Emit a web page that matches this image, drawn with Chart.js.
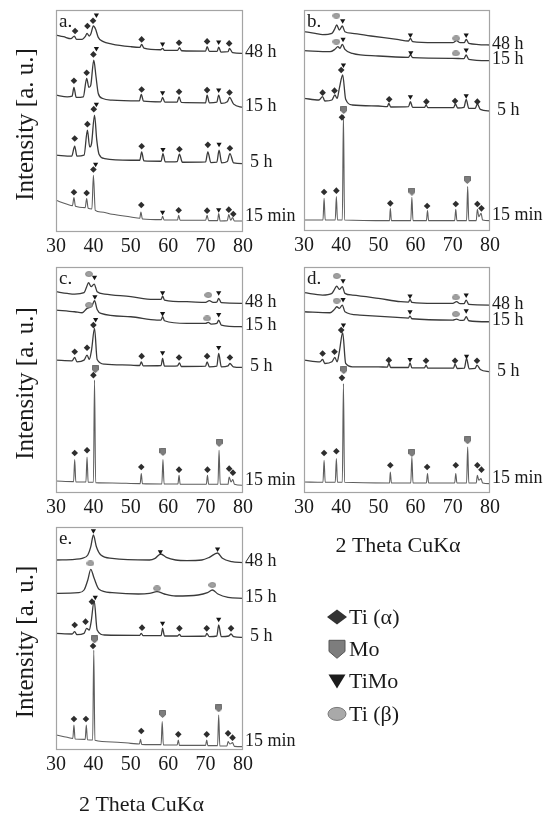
<!DOCTYPE html>
<html>
<head>
<meta charset="utf-8">
<script src="https://cdn.jsdelivr.net/npm/chart.js@4.4.1/dist/chart.umd.min.js"></script>
<style>
  body { margin: 0; background: #fff; width: 544px; height: 821px; position: relative; overflow: hidden; }
  canvas { position: absolute; }
</style>
</head>
<body>
<canvas id="pa" width="300" height="272" style="left:0;top:0"></canvas>
<canvas id="pb" width="272" height="272" style="left:272px;top:0"></canvas>
<canvas id="pc" width="300" height="262" style="left:0;top:262px"></canvas>
<canvas id="pd" width="272" height="300" style="left:272px;top:262px"></canvas>
<canvas id="pe" width="544" height="301" style="left:0;top:520px"></canvas>
<script>
// 2-theta axis and milling times
const thetaTicks = [30, 40, 50, 60, 70, 80];
const millTimes = ['48 h', '15 h', '5 h', '15 min'];
const phases = ['Ti (α)', 'Mo', 'TiMo', 'Ti (β)'];

// ---- panel a ----
const a48h = [[30,587],[32,582],[34,576],[34.9,584],[35.5,574],[37,574],[37.8,582],[38.3,592],[38.9,584],[39.3,590],[40.0,614],[40.6,604],[41.3,580],[42.5,568],[45,560],[50,552],[52.4,550],[52.9,559],[53.5,548],[58,543],[58.5,547],[59,541],[62.5,541],[63,549],[63.6,540],[70,539],[70.4,552],[71,538],[73.1,538],[73.5,551],[74.1,536],[76,537],[76.4,547],[77.2,534],[80,532]];
const a15h = [[30,407],[33,402],[34.3,404],[34.8,430],[35.4,400],[37.3,402],[38.2,457],[38.8,430],[39.3,437],[40.1,512],[40.7,462],[41.3,412],[42.5,397],[45,392],[52.3,390],[52.8,409],[53.4,389],[58,387],[58.5,400],[59.1,386],[62.4,386],[62.9,402],[63.5,385],[70,384],[70.4,407],[71,384],[73,386],[73.5,407],[74.2,382],[75.8,387],[76.4,400],[77.5,380],[80,370]];
const a5h = [[30,227],[34.2,224],[35.0,254],[35.6,224],[37.5,227],[38.4,302],[39.0,252],[39.5,262],[40.3,347],[40.9,272],[41.5,230],[43,217],[50,212],[52.4,212],[52.9,237],[53.5,210],[58.1,209],[58.6,232],[59.2,207],[62.4,208],[63.0,230],[63.8,206],[70,207],[70.6,237],[71.4,205],[73,206],[73.6,242],[74.3,204],[75.8,208],[76.5,232],[77.5,204],[80,202]];
const a15min = [[30,92],[33,80],[34.4,76],[34.8,100],[35.2,74],[37.8,70],[38.2,97],[38.6,68],[39.6,66],[40.0,167],[40.5,62],[42,57],[45,50],[50,42],[52.4,38],[52.7,57],[53.1,36],[58.2,34],[58.5,44],[58.9,33],[62.5,33],[62.8,47],[63.2,32],[70,32],[70.4,47],[70.8,31],[73.2,31],[73.5,52],[73.9,30],[75.8,31],[76.2,49],[76.7,32],[77.2,40],[77.7,30],[80,30]];
const aTiA = [[35.1,599],[38.4,614],[39.9,630],[52.9,574],[62.9,564],[70.4,568],[76.3,562],
  [34.8,450],[38.2,474],[40.0,529],[52.9,424],[62.9,417],[70.4,422],[76.4,415],
  [35.0,277],[38.4,320],[40.1,365],[52.9,254],[63.0,245],[70.6,258],[76.5,248],
  [34.8,116],[38.2,114],[40.0,184],[52.8,78],[62.8,62],[70.4,61],[76.2,64],[77.4,51]];
const aTiMo = [[40.8,647],[58.5,560],[73.5,566],[40.8,547],[58.5,414],[73.5,422],[40.8,380],[58.6,244],[73.6,260],[40.6,200],[58.5,56],[73.5,64]];

// ---- panel b ----
const b48h = [[30,595],[33,590],[35,586],[37.5,590],[38.2,602],[38.8,615],[39.5,600],[40.3,612],[41,595],[43,590],[48,582],[55,572],[58.1,567],[58.6,575],[59.2,565],[65,562],[70,562],[71,568],[72,562],[73.1,562],[73.6,572],[74.3,560],[80,555]];
const b15h = [[30,538],[37,535],[38.3,542],[39.1,550],[39.7,545],[40.3,557],[41,542],[43,530],[50,522],[58.1,518],[58.6,526],[59.2,517],[70,515],[73,514],[73.6,525],[74.3,512],[80,508]];
const b5h = [[30,395],[34,390],[35,400],[35.6,387],[37.5,390],[38.3,405],[38.9,395],[39.5,425],[40.4,465],[41.2,392],[43,375],[50,372],[52.4,370],[52.8,380],[53.3,369],[58.1,370],[58.6,385],[59.2,368],[62.4,368],[62.8,375],[63.3,367],[70.2,367],[70.7,378],[71.3,366],[73,368],[73.6,392],[74.3,365],[76,365],[76.6,378],[77.4,362],[80,357]];
const b15min = [[30,30],[35.1,30],[35.4,95],[35.7,30],[38.4,30],[38.7,100],[39.0,30],[40.3,30],[40.6,345],[40.9,30],[53.0,28],[53.2,65],[53.5,28],[58.7,28],[59.0,98],[59.3,28],[62.9,28],[63.2,58],[63.5,28],[70.5,28],[70.8,62],[71.1,28],[73.7,28],[74.0,130],[74.3,28],[76.3,28],[76.6,62],[77.0,40],[77.6,50],[78,30],[80,28]];
const bTiA = [[35.0,412],[38.2,418],[40.0,480],[52.9,392],[62.9,385],[70.6,387],[76.6,385],
  [35.4,114],[38.7,118],[40.2,338],[53.2,80],[63.1,72],[70.8,78],[76.6,78],[77.7,65]];
const bMo = [[40.7,360],[59.0,115],[73.9,150]];
const bTiMo = [[40.4,628],[58.6,585],[73.6,585],[40.5,572],[58.7,532],[73.6,540],[40.6,495],[58.6,400],[73.6,403]];
const bTiB = [[38.7,643],[70.9,575],[38.7,565],[70.8,530]];

// ---- panel c ----
const c48h = [[30,600],[33,595],[35,593],[37.5,597],[38.2,615],[38.7,627],[39.4,615],[40.2,623],[41,600],[43,593],[50,585],[56,577],[58.1,577],[58.5,587],[59,575],[65,570],[70,568],[71,573],[72,568],[73,569],[73.5,580],[74.2,567],[80,565]];
const c15h = [[30,545],[35,540],[37,537],[38.3,550],[39,553],[39.6,557],[40.3,573],[41,547],[42,535],[50,525],[57,515],[58.1,515],[58.5,525],[59,513],[65,505],[70,505],[70.7,508],[71.5,503],[73,505],[73.5,515],[74.2,500],[80,495]];
const c5h = [[30,395],[34.3,393],[35,403],[35.6,390],[37.5,395],[38.3,410],[38.9,397],[39.5,425],[40.3,490],[41,397],[43,383],[50,380],[52.4,379],[52.8,390],[53.3,378],[58.1,379],[58.5,400],[59,377],[62.5,378],[63,387],[63.5,376],[70,377],[70.4,390],[71,375],[73,377],[73.5,415],[74.2,375],[76,378],[76.5,385],[77.4,375],[80,373]];
const c15min = [[30,33],[34.7,31],[35,97],[35.3,30],[38.0,30],[38.3,105],[38.6,29],[40.0,29],[40.3,335],[40.6,28],[45,27],[52.5,25],[52.8,55],[53.1,25],[58.3,24],[58.6,97],[58.9,24],[62.6,24],[62.9,50],[63.2,23],[70.2,23],[70.5,50],[70.8,23],[73.3,23],[73.6,125],[73.9,23],[76.0,23],[76.3,45],[76.8,30],[77.3,37],[77.7,23],[80,20]];
const cTiA = [[35.0,420],[38.3,432],[40.0,500],[52.9,407],[62.9,403],[70.4,407],[76.5,403],
  [35.0,117],[38.3,125],[40.0,350],[52.8,75],[62.9,67],[70.5,67],[76.3,70],[77.3,58]];
const cMo = [[40.5,368],[58.6,120],[73.6,147]];
const cTiMo = [[40.3,643],[58.5,597],[73.5,597],[40.4,585],[58.5,535],[73.5,532],[40.6,517],[58.5,417],[73.5,433]];
const cTiB = [[38.8,653],[70.7,590],[38.8,560],[70.4,520]];

// ---- panel d ----
const d48h = [[30,597],[35,590],[37.5,595],[38.2,607],[38.8,617],[39.5,607],[40.3,615],[41,595],[43,590],[50,580],[56,570],[58.1,569],[58.5,577],[59,568],[65,565],[70,565],[71,570],[72,564],[73,564],[73.6,575],[74.3,562],[80,560]];
const d15h = [[30,540],[37,537],[38.2,547],[38.8,555],[39.5,550],[40.3,560],[41,540],[45,530],[55,523],[58.1,521],[58.5,527],[59,519],[70,515],[71,518],[72,514],[73,515],[73.6,525],[74.3,513],[80,510]];
const d5h = [[30,395],[34.3,390],[35,397],[35.6,385],[37.5,390],[38.3,403],[38.9,390],[39.5,420],[40.4,477],[41.2,385],[43,375],[50,375],[52.4,374],[52.8,385],[53.3,373],[58.1,373],[58.5,387],[59,372],[62.4,372],[62.8,380],[63.3,371],[70.2,371],[70.6,383],[71.2,370],[73.1,371],[73.7,400],[74.4,369],[76,370],[76.5,380],[77.4,367],[80,360]];
const d15min = [[30,30],[35.1,29],[35.4,95],[35.7,29],[38.4,29],[38.7,100],[39.0,29],[40.3,29],[40.6,325],[40.9,29],[53.0,27],[53.2,60],[53.5,27],[58.7,27],[59.0,105],[59.3,27],[62.9,27],[63.2,55],[63.5,27],[70.5,27],[70.8,55],[71.1,27],[73.7,27],[74.0,135],[74.3,27],[76.3,27],[76.6,50],[77.0,35],[77.6,40],[78,27],[80,25]];
const dTiA = [[35.0,415],[38.2,420],[40.0,485],[52.8,395],[62.8,393],[70.6,393],[76.5,393],
  [35.4,117],[38.7,122],[40.2,342],[53.2,80],[63.1,75],[70.8,80],[76.6,80],[77.7,67]];
const dMo = [[40.7,365],[59.0,117],[74.0,155]];
const dTiMo = [[40.5,633],[58.5,587],[73.6,590],[40.5,577],[58.5,540],[73.6,543],[40.6,500],[58.5,397],[73.7,407]];
const dTiB = [[38.8,647],[70.8,583],[38.8,573],[70.8,533]];

// ---- panel e ----
const e48h = [[30,567],[35,569],[37,572],[38.5,582],[39.3,607],[40.0,642],[40.8,607],[42,582],[45,572],[55,567],[56.5,572],[58,585],[59.5,575],[62,567],[65,565],[69,567],[71,575],[73.2,588],[74.5,572],[77,562],[80,559]];
const e15h = [[30,467],[36,469],[37.5,477],[38.5,507],[39.3,539],[40.2,512],[41.5,479],[45,469],[52,465],[55,467],[57,472],[59,465],[62,459],[68,462],[70.5,469],[71.8,477],[73.3,465],[76,455],[80,452]];
const e5h = [[30,347],[34.3,345],[35,352],[35.6,343],[37.5,347],[38.2,362],[38.9,357],[39.4,382],[40.2,445],[41,357],[43,342],[52.4,341],[52.8,347],[53.3,340],[58.1,340],[58.5,362],[59,339],[62.5,339],[63,344],[63.5,338],[70,339],[70.3,347],[71,337],[73,339],[73.5,372],[74.2,337],[76.2,339],[76.8,345],[77.5,337],[80,335]];
const e15min = [[30,42],[33,35],[34.5,32],[34.8,72],[35.1,30],[37.8,29],[38.1,72],[38.4,28],[39.8,27],[40.1,297],[40.4,26],[45,21],[50,17],[52.3,15],[52.6,29],[52.9,14],[58.1,13],[58.4,82],[58.7,12],[62.4,12],[62.7,27],[63,11],[70,11],[70.3,27],[70.6,10],[73.2,10],[73.5,102],[73.8,9],[75.7,9],[76,22],[76.5,15],[77.2,19],[77.7,8],[80,7]];
const eTiA = [[35.0,372],[37.9,382],[39.6,442],[53.0,364],[63.0,362],[70.3,362],[76.8,362],
  [34.8,90],[38.0,90],[39.9,309],[52.8,54],[62.7,44],[70.3,44],[76.0,47],[77.2,34]];
const eMo = [[40.3,329],[58.5,105],[73.5,122]];
const eTiMo = [[40.0,655],[57.9,592],[73.2,600],[40.5,455],[58.5,377],[73.5,389]];
const eTiB = [[39.2,557],[57.0,482],[71.8,492]];

const SERIF = '"Liberation Serif", "Times New Roman", serif';
const FRAME = '#a4a4a4';

// little bitmaps for the Mo shield and the Ti(beta) ellipse markers
function shieldPath(g, cx, cy, w, h) {
  g.beginPath();
  g.moveTo(cx - w / 2, cy - h / 2);
  g.lineTo(cx + w / 2, cy - h / 2);
  g.lineTo(cx + w / 2, cy + h * 0.12);
  g.lineTo(cx, cy + h / 2);
  g.lineTo(cx - w / 2, cy + h * 0.12);
  g.closePath();
}
function makeShield(w, h) {
  const c = document.createElement('canvas');
  c.width = w; c.height = h;
  const g = c.getContext('2d');
  shieldPath(g, w / 2, h / 2, w - 1, h - 1);
  g.fillStyle = '#7d7d7d'; g.fill();
  g.strokeStyle = '#5a5a5a'; g.lineWidth = 0.8; g.stroke();
  return c;
}
function makeEllipse(w, h) {
  const c = document.createElement('canvas');
  c.width = w; c.height = h;
  const g = c.getContext('2d');
  g.beginPath();
  g.ellipse(w / 2, h / 2, w / 2 - 0.5, h / 2 - 0.5, 0, 0, Math.PI * 2);
  g.fillStyle = '#a0a0a0'; g.fill();
  g.strokeStyle = '#808080'; g.lineWidth = 0.8; g.stroke();
  return c;
}
const moPoint = makeShield(7, 8);
const betaPoint = makeEllipse(8, 6);

function drawSymbol(g, kind, x, y) {
  g.save();
  if (kind === 0) {        // diamond
    g.beginPath();
    g.moveTo(x - 10, y); g.lineTo(x, y - 7.5); g.lineTo(x + 10, y); g.lineTo(x, y + 7.5);
    g.closePath(); g.fillStyle = '#333'; g.fill();
  } else if (kind === 1) { // shield
    shieldPath(g, x, y, 16, 18);
    g.fillStyle = '#7d7d7d'; g.fill();
    g.strokeStyle = '#555'; g.lineWidth = 1; g.stroke();
  } else if (kind === 2) { // down triangle
    g.beginPath();
    g.moveTo(x - 8.5, y - 7); g.lineTo(x + 8.5, y - 7); g.lineTo(x, y + 7);
    g.closePath(); g.fillStyle = '#1c1c1c'; g.fill();
  } else {                 // ellipse
    g.beginPath();
    g.ellipse(x, y, 9, 6.5, 0, 0, Math.PI * 2);
    g.fillStyle = '#a9a9a9'; g.fill();
    g.strokeStyle = '#777'; g.lineWidth = 1; g.stroke();
  }
  g.restore();
}

// frame, panel letter, sample labels, axis titles and legend
const panelDecor = {
  id: 'panelDecor',
  afterDatasetsDraw(chart, args, opts) {
    const g = chart.ctx;
    const ca = chart.chartArea;
    const ys = chart.scales.y;
    g.save();
    g.strokeStyle = FRAME;
    g.lineWidth = 1.2;
    g.strokeRect(ca.left + 0.5, ca.top + 0.5, ca.right - ca.left - 1, ca.bottom - ca.top);

    g.fillStyle = '#1a1a1a';
    g.font = '19px ' + SERIF;
    g.textBaseline = 'top';
    g.textAlign = 'left';
    g.fillText(opts.letter, ca.left + 3, ca.top + 3);

    g.font = '18px ' + SERIF;
    g.textBaseline = 'middle';
    chart.data.datasets.forEach(ds => {
      if (!ds.timeLabel) return;
      const last = ds.data[ds.data.length - 1];
      const shift = ds.timeLabel.length < 4 ? 7 : 2;
      const lift = ds.timeLabel === '15 min' ? 5 : 1;
      g.fillText(ds.timeLabel, ca.right + shift, ys.getPixelForValue(last[1]) - lift);
    });

    if (opts.yTitle) {
      g.save();
      g.translate(26, (ca.top + ca.bottom) / 2 + 4);
      g.rotate(-Math.PI / 2);
      g.textAlign = 'center';
      g.font = '25px ' + SERIF;
      g.fillText('Intensity [a. u.]', 0, 0);
      g.restore();
    }
    if (opts.xTitle) {
      g.textAlign = 'center';
      g.font = '22px ' + SERIF;
      g.fillText('2 Theta CuKα', (ca.left + ca.right) / 2 + opts.xTitleDx, opts.xTitleY);
    }
    if (opts.legend) {
      g.textAlign = 'left';
      g.font = '22px ' + SERIF;
      phases.forEach((p, i) => {
        const y = 97 + i * 32.3;
        drawSymbol(g, i, 337, y);
        g.fillStyle = '#1a1a1a';
        g.fillText(p, 349, y + 1);
      });
    }
    g.restore();
  }
};

function trace(data, i) {
  return {
    data, timeLabel: millTimes[i], showLine: true, pointRadius: 0, clip: false,
    cubicInterpolationMode: 'monotone',
    borderColor: i === 3 ? '#5e5e5e' : '#3a3a3a', borderWidth: i === 3 ? 1.1 : 1.3
  };
}

function panel(id, traces, tiA, mo, tiMo, tiB, yMax, pad, decor) {
  const datasets = [
    { data: tiA, pointStyle: 'rectRot', pointRadius: 3.3, backgroundColor: '#2e2e2e', borderWidth: 0, clip: false },
    { data: tiMo, pointStyle: 'triangle', pointRotation: 180, pointRadius: 3, backgroundColor: '#151515', borderWidth: 0, clip: false },
    { data: mo, pointStyle: moPoint, pointRadius: 3, clip: false },
    { data: tiB, pointStyle: betaPoint, pointRadius: 3, clip: false }
  ];
  traces.forEach((t, i) => datasets.push(trace(t, i)));
  return new Chart(document.getElementById(id), {
    type: 'scatter',
    data: { datasets },
    options: {
      responsive: false,
      animation: false,
      events: [],
      layout: { padding: pad },
      plugins: { legend: { display: false }, tooltip: { enabled: false }, panelDecor: decor },
      scales: {
        x: {
          type: 'linear', min: 30, max: 80,
          grid: { display: false, drawTicks: false },
          border: { display: false },
          afterBuildTicks: s => { s.ticks = thetaTicks.map(v => ({ value: v })); },
          afterFit: s => { s.height = 31; },
          ticks: { padding: 4, color: '#1a1a1a', maxRotation: 0, font: { family: SERIF, size: 20 } }
        },
        y: { display: false, min: 0, max: yMax }
      }
    },
    plugins: [panelDecor]
  });
}

panel('pa', [a48h, a15h, a5h, a15min], aTiA, [], aTiMo, [], 662,
  { left: 56, top: 10, right: 57, bottom: 10 }, { letter: 'a.', yTitle: true });
panel('pb', [b48h, b15h, b5h, b15min], bTiA, bMo, bTiMo, bTiB, 660,
  { left: 32, top: 10, right: 54, bottom: 11 }, { letter: 'b.' });
panel('pc', [c48h, c15h, c5h, c15min], cTiA, cMo, cTiMo, cTiB, 674,
  { left: 56, top: 5, right: 57, bottom: 1 }, { letter: 'c.', yTitle: true });
panel('pd', [d48h, d15h, d5h, d15min], dTiA, dMo, dTiMo, dTiB, 674,
  { left: 32, top: 5, right: 54, bottom: 39 }, { letter: 'd.', xTitle: true, xTitleDx: 1, xTitleY: 284 });
panel('pe', [e48h, e15h, e5h, e15min], eTiA, eMo, eTiMo, eTiB, 666,
  { left: 56, top: 7, right: 301, bottom: 41 }, { letter: 'e.', yTitle: true, xTitle: true, xTitleDx: -8, xTitleY: 285, legend: true });
</script>
</body>
</html>
